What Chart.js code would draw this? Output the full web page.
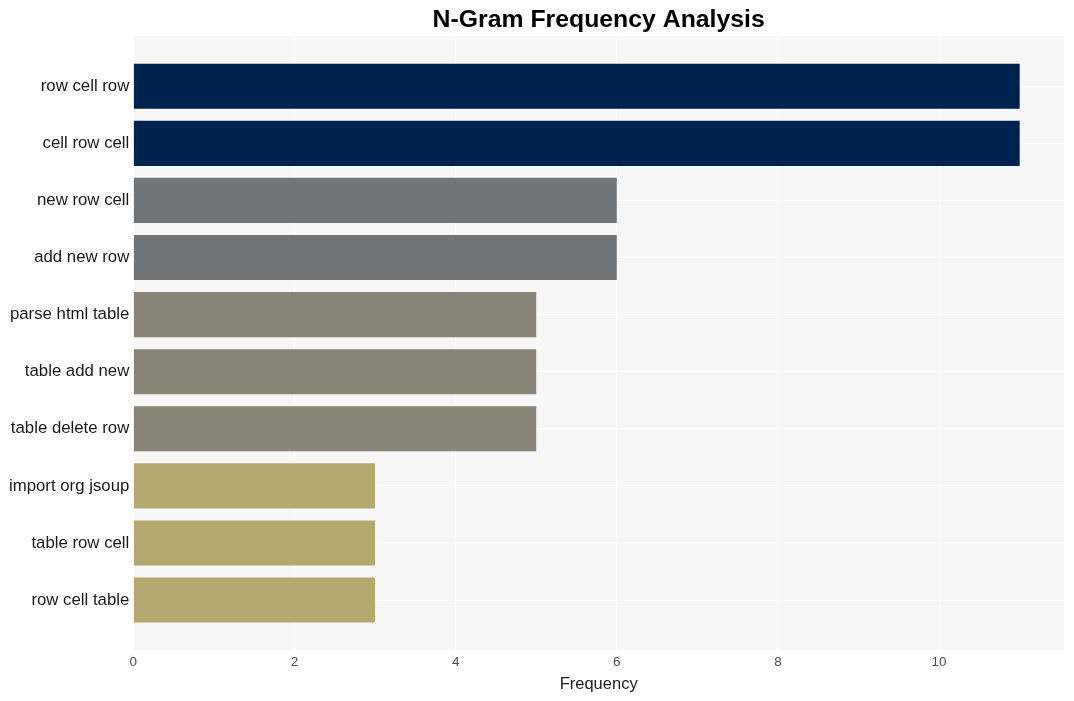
<!DOCTYPE html>
<html>
<head>
<meta charset="utf-8">
<script src="https://cdn.jsdelivr.net/npm/chart.js@4/dist/chart.umd.min.js"></script>
<style>
  html, body { margin: 0; padding: 0; background: #ffffff; }
  #wrap { width: 1074px; height: 701px; }
</style>
</head>
<body>
<div id="wrap"><canvas id="ngramChart" width="1074" height="701"></canvas></div>
<script>
/* n-gram data, top to bottom */
const ngramLabels = [
    "row cell row",
    "cell row cell",
    "new row cell",
    "add new row",
    "parse html table",
    "table add new",
    "table delete row",
    "import org jsoup",
    "table row cell",
    "row cell table"
];

const ngramCounts = [11, 11, 6, 6, 5, 5, 5, 3, 3, 3];

const barColors = [
    "#00224e", "#00224e",
    "#737476", "#737476",
    "#878577", "#878577", "#878577",
    "#b5a86e", "#b5a86e", "#b5a86e"
];

const xTicks = [0, 2, 4, 6, 8, 10];

const chartTitle = "N-Gram Frequency Analysis";

const FONT = "'Liberation Sans', Arial, sans-serif";

/* panel background + title centred on the plot */
const panelPlugin = {
    id: "panel",
    beforeDraw(chart) {
        const { ctx, chartArea } = chart;
        ctx.save();
        ctx.fillStyle = "#f7f7f7";
        ctx.fillRect(chartArea.left, chartArea.top,
            chartArea.right - chartArea.left, chartArea.bottom - chartArea.top);
        ctx.restore();
    },
    afterDraw(chart) {
        const { ctx, chartArea } = chart;
        ctx.save();
        ctx.font = "bold 24.8px " + FONT;
        ctx.fillStyle = "#000000";
        ctx.textAlign = "center";
        ctx.textBaseline = "middle";
        ctx.fillText(chartTitle, (chartArea.left + chartArea.right) / 2, 20);
        ctx.restore();
    }
};

const ctx = document.getElementById("ngramChart").getContext("2d");

new Chart(ctx, {
    type: "bar",
    data: {
        datasets: [
            {
                data: ngramCounts.map((v, i) => ({ x: v, y: i })),
                backgroundColor: barColors,
                borderWidth: 0,
                categoryPercentage: 1,
                barPercentage: 0.79
            }
        ]
    },
    options: {
        indexAxis: "y",
        responsive: false,
        animation: false,
        layout: {
            padding: { top: 36, right: 10, bottom: 8, left: 5 }
        },
        plugins: {
            legend: { display: false },
            tooltip: { enabled: false },
            title: { display: false }
        },
        scales: {
            x: {
                type: "linear",
                min: 0,
                max: 11.55,
                afterBuildTicks: axis => {
                    axis.ticks = xTicks.map(v => ({ value: v }));
                },
                grid: {
                    color: "#ffffff",
                    lineWidth: 1,
                    drawTicks: false
                },
                border: { display: false },
                ticks: {
                    color: "#4d4d4d",
                    padding: 4,
                    font: { family: FONT, size: 13.5 }
                },
                title: {
                    display: true,
                    text: "Frequency",
                    color: "#222222",
                    padding: { top: 2, bottom: 0 },
                    font: { family: FONT, size: 16.5, lineHeight: 1 }
                }
            },
            y: {
                type: "linear",
                reverse: true,
                offset: false,
                min: -0.88,
                max: 9.88,
                afterBuildTicks: axis => {
                    axis.ticks = ngramLabels.map((_, i) => ({ value: i }));
                },
                grid: {
                    color: "#ffffff",
                    lineWidth: 1,
                    offset: false,
                    drawTicks: false
                },
                border: { display: false },
                ticks: {
                    color: "#1a1a1a",
                    padding: 4,
                    autoSkip: false,
                    callback: v => ngramLabels[v],
                    font: { family: FONT, size: 16.8 }
                }
            }
        }
    },
    plugins: [panelPlugin]
});
</script>
</body>
</html>
